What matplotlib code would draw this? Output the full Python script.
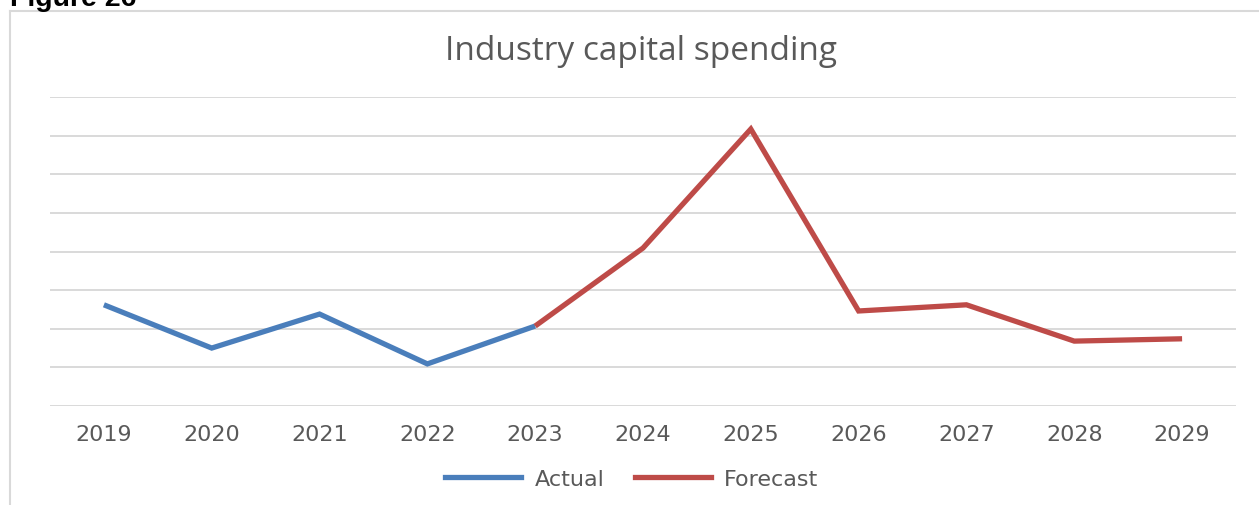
import matplotlib.pyplot as plt
from matplotlib.lines import Line2D

# Chart values (index units, no y labels shown)
years = ['2019', '2020', '2021', '2022', '2023', '2024',
         '2025', '2026', '2027', '2028', '2029']
actual_years = years[:5]
actual_values = [2.62, 1.50, 2.38, 1.09, 2.07]
forecast_years = years[4:]
forecast_values = [2.07, 4.09, 7.17, 2.46, 2.62, 1.68, 1.74]

blue = '#4a7ebb'
red = '#be4b48'
grey_text = '#595959'
grid_grey = '#d9d9d9'

W, H = 1259, 506
fig = plt.figure(figsize=(W / 100, H / 100), dpi=100)

# Plot area
ax = fig.add_axes([50 / W, (H - 407) / H, (1236 - 50) / W, (407 - 98) / H])
x_pos = {y: i for i, y in enumerate(years)}
ax.plot([x_pos[y] for y in actual_years], actual_values, color=blue,
        lw=3.8, solid_joinstyle='miter', solid_capstyle='butt', zorder=3)
ax.plot([x_pos[y] for y in forecast_years], forecast_values, color=red,
        lw=3.8, solid_joinstyle='miter', solid_capstyle='butt', zorder=3)

ax.set_xlim(-0.5, len(years) - 0.5)
ax.set_ylim(0, 8)
ax.set_yticks(range(0, 9))
ax.set_yticklabels([])
ax.set_xticks(range(len(years)))
ax.set_xticklabels(years, fontsize=16, color=grey_text, family='DejaVu Sans')
ax.tick_params(length=0, pad=13)
ax.grid(axis='y', color=grid_grey, lw=1.4)
for s in ax.spines.values():
    s.set_visible(False)

# Title and caption
fig.text(641 / W, 1 - 52 / H, 'Industry capital spending', ha='center',
         va='center', fontsize=24, color=grey_text, family='Open Sans')
fig.text(10 / W, 1 - 6 / H, 'Figure 26', ha='left', va='baseline',
         fontsize=20.5, fontweight='bold', family='Liberation Sans')

# Chart frame (top and left edges visible)
fig.add_artist(Line2D([10 / W, 1], [1 - 12 / H, 1 - 12 / H],
                      transform=fig.transFigure, color=grid_grey, lw=1.5))
fig.add_artist(Line2D([10 / W, 10 / W], [0, 1 - 12 / H],
                      transform=fig.transFigure, color=grid_grey, lw=1.5))

# Legend
handles = [Line2D([], [], color=blue, lw=3.8), Line2D([], [], color=red, lw=3.8)]
fig.legend(handles, ['Actual', 'Forecast'], loc='center',
           bbox_to_anchor=(632 / W, 1 - 480 / H), ncol=2, frameon=False,
           prop={'family': 'DejaVu Sans', 'size': 16}, labelcolor=grey_text,
           handlelength=3.4, handletextpad=0.6, columnspacing=1.4)

fig.savefig('out.png', dpi=100)
